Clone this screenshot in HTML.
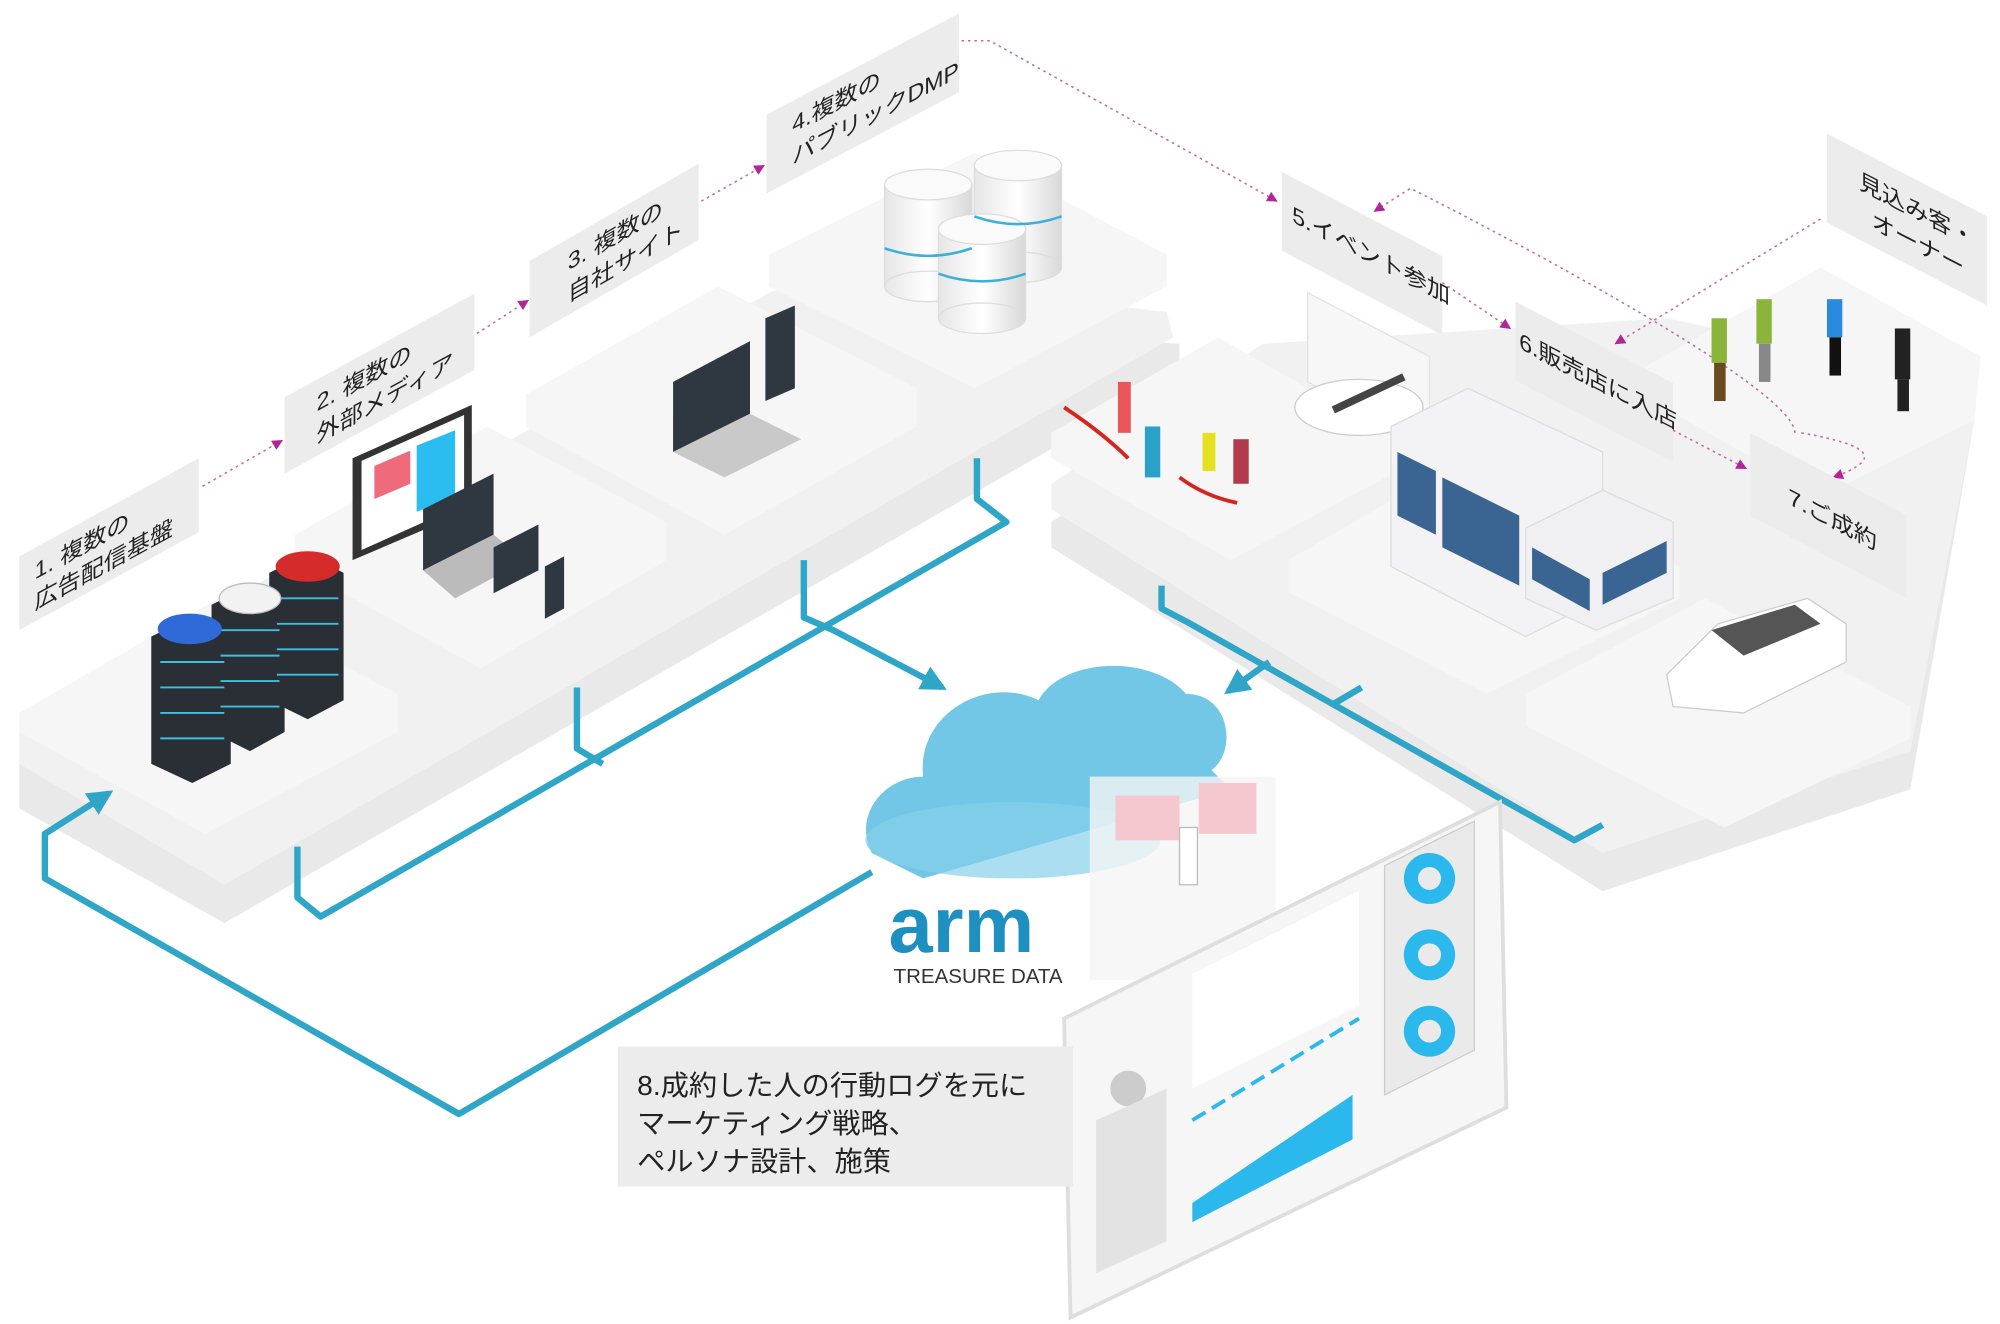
<!DOCTYPE html>
<html><head><meta charset="utf-8"><style>
html,body{margin:0;padding:0;background:#fff;}
svg{display:block;}
text{font-family:"Liberation Sans","Noto Sans CJK JP",sans-serif;}
</style></head><body>
<svg width="2000" height="1324" viewBox="0 0 1560 1040" preserveAspectRatio="none" xmlns="http://www.w3.org/2000/svg">
<defs>
<marker id="pa" viewBox="0 0 10 10" refX="9" refY="5" markerWidth="7" markerHeight="7" orient="auto"><path d="M0,0L10,5L0,10z" fill="#b0279a"/></marker>
<marker id="ba" viewBox="0 0 10 10" refX="8" refY="5" markerWidth="4" markerHeight="4" orient="auto"><path d="M0,0L10,5L0,10z" fill="#2fa6c8"/></marker>
<linearGradient id="cyl" x1="0" x2="1"><stop offset="0" stop-color="#e6e6e6"/><stop offset="0.5" stop-color="#fff"/><stop offset="1" stop-color="#d8d8d8"/></linearGradient>
</defs>

<!-- left platform strip -->
<polygon points="15,600 620,255 920,270 920,295 175,725 15,635" fill="#e9e9ea"/>
<polygon points="15,565 600,230 640,215 910,245 915,265 175,695 15,600" fill="#f1f1f2"/>
<polygon points="15,560 170,470 310,545 310,575 160,655 15,575" fill="#f6f6f7"/>
<polygon points="230,420 380,335 520,410 520,440 375,525 230,445" fill="#f6f6f7"/>
<polygon points="410,310 560,225 715,305 715,335 565,420 410,335" fill="#f6f6f7"/>
<polygon points="600,200 760,120 910,200 910,225 760,305 600,225" fill="#f6f6f7"/>

<!-- right platform -->
<polygon points="820,410 985,300 1540,330 1490,620 1250,700 820,430" fill="#e9e9ea"/>
<polygon points="820,380 985,270 1300,250 1540,300 1540,330 1490,590 1250,670 820,400" fill="#f1f1f2"/>
<polygon points="820,340 950,265 1090,345 1090,370 960,440 820,360" fill="#f6f6f7"/>
<polygon points="1005,440 1150,355 1310,445 1310,470 1160,545 1005,465" fill="#f6f6f7"/>
<polygon points="1190,545 1330,470 1490,555 1490,580 1345,650 1190,570" fill="#f6f6f7"/>
<polygon points="1280,290 1420,210 1545,280 1540,330 1420,390 1280,310" fill="#f6f6f7"/>

<!-- blue connectors -->
<g fill="none" stroke="#2fa6c8" stroke-width="5" stroke-linejoin="round">
<path d="M762,360 V392 L785,410 L250,720 L232,705 V665"/>
<path d="M450,540 V588 L470,600"/>
<path d="M627,440 V485 L650,495 L735,540" marker-end="url(#ba)"/>
<path d="M680,685 L358,875 L35,690 V655 L85,623" marker-end="url(#ba)"/>
<path d="M906,460 V478 L925,488 L1228,660 L1250,648"/>
<path d="M990,520 L958,543" marker-end="url(#ba)"/>
<path d="M1062,540 L1040,553"/>
</g>

<!-- dotted connectors -->
<g fill="none" stroke="#c56a9a" stroke-width="1.2" stroke-dasharray="2,3">
<path d="M158,382 L220,346" marker-end="url(#pa)"/>
<path d="M372,262 L412,236" marker-end="url(#pa)"/>
<path d="M547,158 L596,130" marker-end="url(#pa)"/>
<path d="M750,32 L772,32 L996,158" marker-end="url(#pa)"/>
<path d="M1420,172 L1260,270" marker-end="url(#pa)"/>
<path d="M1125,222 L1178,258" marker-end="url(#pa)"/>
<path d="M1305,338 L1362,368" marker-end="url(#pa)"/>
<path d="M1400,340 C1400,300 1105,150 1100,148 L1072,166" marker-end="url(#pa)"/>
<path d="M1405,340 C1460,350 1470,360 1430,375" marker-end="url(#pa)"/>
</g>

<!-- labels left -->
<g fill="#222" font-size="18">
<g transform="matrix(1,-0.55,0,1,15,437)"><rect width="140" height="58" fill="#ececec"/><text x="12" y="25">1. 複数の</text><text x="12" y="49">広告配信基盤</text></g>
<g transform="matrix(1,-0.55,0,1,222,312)"><rect width="148" height="60" fill="#ececec"/><text x="25" y="25">2. 複数の</text><text x="25" y="50">外部メディア</text></g>
<g transform="matrix(1,-0.58,0,1,413,205)"><rect width="132" height="60" fill="#ececec"/><text x="30" y="25">3. 複数の</text><text x="30" y="50">自社サイト</text></g>
<g transform="matrix(1,-0.53,0,1,598,90)"><rect width="150" height="62" fill="#ececec"/><text x="20" y="25">4.複数の</text><text x="20" y="50">パブリックDMP</text></g>
</g>
<!-- labels right -->
<g fill="#222" font-size="18">
<g transform="matrix(1,0.53,0,1,1000,135)"><rect width="125" height="62" fill="#ececec"/><text x="8" y="35">5.イベント参加</text></g>
<g transform="matrix(1,0.52,0,1,1182,237)"><rect width="123" height="62" fill="#ececec"/><text x="3" y="35">6.販売店に入店</text></g>
<g transform="matrix(1,0.53,0,1,1365,340)"><rect width="122" height="65" fill="#ececec"/><text x="30" y="40">7.ご成約</text></g>
<g transform="matrix(1,0.52,0,1,1425,105)"><rect width="125" height="70" fill="#ececec"/><text x="25" y="30">見込み客・</text><text x="35" y="56">オーナー</text></g>
</g>

<!-- servers -->
<g>
<polygon points="118,500 148,485 180,500 180,600 150,615 118,600" fill="#2a2f36"/>
<polygon points="165,475 195,460 222,475 222,575 195,590 165,575" fill="#2a2f36"/>
<polygon points="210,450 240,435 268,450 268,550 240,565 210,550" fill="#2a2f36"/>
<g stroke="#3cc0e0" stroke-width="1.5">
<path d="M125,520 H175 M125,540 H175 M125,560 H175 M125,580 H175"/>
<path d="M172,495 H218 M172,515 H218 M172,535 H218 M172,555 H218"/>
<path d="M216,470 H264 M216,490 H264 M216,510 H264 M216,530 H264"/>
</g>
<ellipse cx="148" cy="494" rx="25" ry="12" fill="#2f6ad8"/>
<ellipse cx="195" cy="470" rx="24" ry="12" fill="#f2f2f2" stroke="#bbb"/>
<ellipse cx="240" cy="445" rx="25" ry="12" fill="#d62b2b"/>
</g>
<!-- media devices -->
<polygon points="275,360 368,318 368,400 275,440" fill="#333"/>
<polygon points="282,362 362,326 362,396 282,432" fill="#fff"/>
<polygon points="292,366 320,354 320,380 292,392" fill="#ef6a7a"/>
<polygon points="325,350 355,338 355,390 325,402" fill="#2bbcf0"/>
<polygon points="330,400 385,372 385,420 330,448" fill="#2f3740"/>
<polygon points="330,448 385,420 410,440 355,470" fill="#bbb"/>
<polygon points="385,430 420,412 420,448 385,466" fill="#2f3740"/>
<polygon points="425,445 440,437 440,478 425,486" fill="#2f3740"/>
<!-- laptop & phone -->
<polygon points="525,300 585,268 585,325 525,355" fill="#2f3740"/>
<polygon points="525,355 585,325 625,345 565,375" fill="#c9c9c9"/>
<polygon points="597,250 620,240 620,305 597,315" fill="#2f3740"/>
<!-- databases -->
<g fill="url(#cyl)" stroke="#ddd">
<rect x="690" y="145" width="68" height="80"/><ellipse cx="724" cy="225" rx="34" ry="12"/><ellipse cx="724" cy="145" rx="34" ry="12" fill="#fafafa"/>
<rect x="760" y="130" width="68" height="80"/><ellipse cx="794" cy="210" rx="34" ry="12"/><ellipse cx="794" cy="130" rx="34" ry="12" fill="#fafafa"/>
<rect x="732" y="180" width="68" height="70"/><ellipse cx="766" cy="250" rx="34" ry="12"/><ellipse cx="766" cy="180" rx="34" ry="12" fill="#fafafa"/>
</g>
<g stroke="#3cb0d8" stroke-width="2" fill="none">
<path d="M690,195 Q724,207 758,195 M760,170 Q794,182 828,170 M732,215 Q766,227 800,215"/>
</g>

<!-- event booth -->
<polygon points="1020,230 1115,280 1115,350 1020,300" fill="#f7f7f7" stroke="#e3e3e3"/>
<ellipse cx="1060" cy="320" rx="50" ry="22" fill="#fff" stroke="#ccc"/>
<path d="M1040,322 L1095,296" stroke="#444" stroke-width="6"/>
<path d="M830,320 Q860,340 880,360 M920,375 Q940,390 965,395" stroke="#d3261f" stroke-width="3" fill="none"/>
<g>
<rect x="872" y="300" width="10" height="40" fill="#e8555a"/><rect x="893" y="335" width="12" height="40" fill="#2aa2c8"/>
<rect x="938" y="340" width="10" height="30" fill="#e5e020"/><rect x="962" y="345" width="12" height="35" fill="#b23a4a"/>
<rect x="1335" y="250" width="12" height="35" fill="#8bb53a"/><rect x="1370" y="235" width="12" height="35" fill="#8bb53a"/>
<rect x="1425" y="235" width="12" height="30" fill="#2a8ae0"/><rect x="1478" y="258" width="12" height="40" fill="#222"/>
<rect x="1337" y="285" width="9" height="30" fill="#6b4a20"/><rect x="1372" y="270" width="9" height="30" fill="#888"/>
<rect x="1427" y="265" width="9" height="30" fill="#111"/><rect x="1480" y="298" width="9" height="25" fill="#222"/>
</g>
<!-- buildings -->
<polygon points="1085,335 1145,305 1250,355 1250,470 1190,500 1085,445" fill="#f3f3f5" stroke="#ddd"/>
<polygon points="1190,415 1250,385 1305,410 1305,470 1245,495 1190,470" fill="#f0f0f3" stroke="#ddd"/>
<g fill="#3a6592"><polygon points="1090,355 1120,370 1120,420 1090,405"/><polygon points="1125,375 1185,405 1185,460 1125,430"/><polygon points="1195,430 1240,455 1240,480 1195,455"/><polygon points="1250,450 1300,425 1300,450 1250,475"/></g>
<!-- car -->
<path d="M1300,530 L1340,490 L1410,470 L1440,490 L1440,520 L1360,560 L1305,555 Z" fill="#fff" stroke="#ccc"/>
<polygon points="1335,495 1400,475 1420,490 1360,515" fill="#555"/>

<!-- cloud -->
<path d="M680,670 C665,640 690,610 720,610 C715,560 770,530 810,550 C830,515 900,515 925,545 C960,545 965,590 945,605 L960,620 L720,690 Z" fill="#58bde0" opacity="0.85"/>
<ellipse cx="790" cy="660" rx="115" ry="30" fill="#86d0ea" opacity="0.7"/>
<rect x="850" y="610" width="145" height="160" fill="#f5f5f5" opacity="0.8"/>
<rect x="870" y="625" width="50" height="35" fill="#f5c8d0"/><rect x="935" y="615" width="45" height="40" fill="#f5c8d0"/>
<rect x="920" y="650" width="14" height="45" fill="#fff" stroke="#bbb"/>

<!-- arm -->
<text x="693" y="748" font-size="62" font-weight="bold" fill="#1e90c0">arm</text>
<text x="697" y="772" font-size="16" fill="#333">TREASURE DATA</text>

<!-- dashboard -->
<polygon points="830,800 1170,630 1175,870 835,1035" fill="#f6f6f6" stroke="#dedede" stroke-width="3"/>
<polygon points="930,765 1060,700 1060,790 930,855" fill="#fff"/>
<polygon points="930,945 1055,860 1055,895 930,960" fill="#2bb8ec"/>
<path d="M930,880 L1060,800" stroke="#2bb8ec" stroke-width="3" stroke-dasharray="12,6"/>
<polygon points="1080,680 1150,645 1150,825 1080,860" fill="#eaeaea" stroke="#ccc"/>
<circle cx="1115" cy="690" r="20" fill="#2bb8ec"/><circle cx="1115" cy="750" r="20" fill="#2bb8ec"/><circle cx="1115" cy="810" r="20" fill="#2bb8ec"/>
<circle cx="1115" cy="690" r="9" fill="#eaeaea"/><circle cx="1115" cy="750" r="9" fill="#eaeaea"/><circle cx="1115" cy="810" r="9" fill="#eaeaea"/>
<circle cx="880" cy="855" r="14" fill="#ccc"/>
<polygon points="855,880 910,855 910,975 855,1000" fill="#e3e3e3"/>

<!-- text box 8 -->
<rect x="482" y="822" width="355" height="110" fill="#ececec"/>
<g font-size="22" fill="#222">
<text x="497" y="860">8.成約した人の行動ログを元に</text>
<text x="497" y="890">マーケティング戦略、</text>
<text x="497" y="920">ペルソナ設計、施策</text>
</g>
</svg>
</body></html>
